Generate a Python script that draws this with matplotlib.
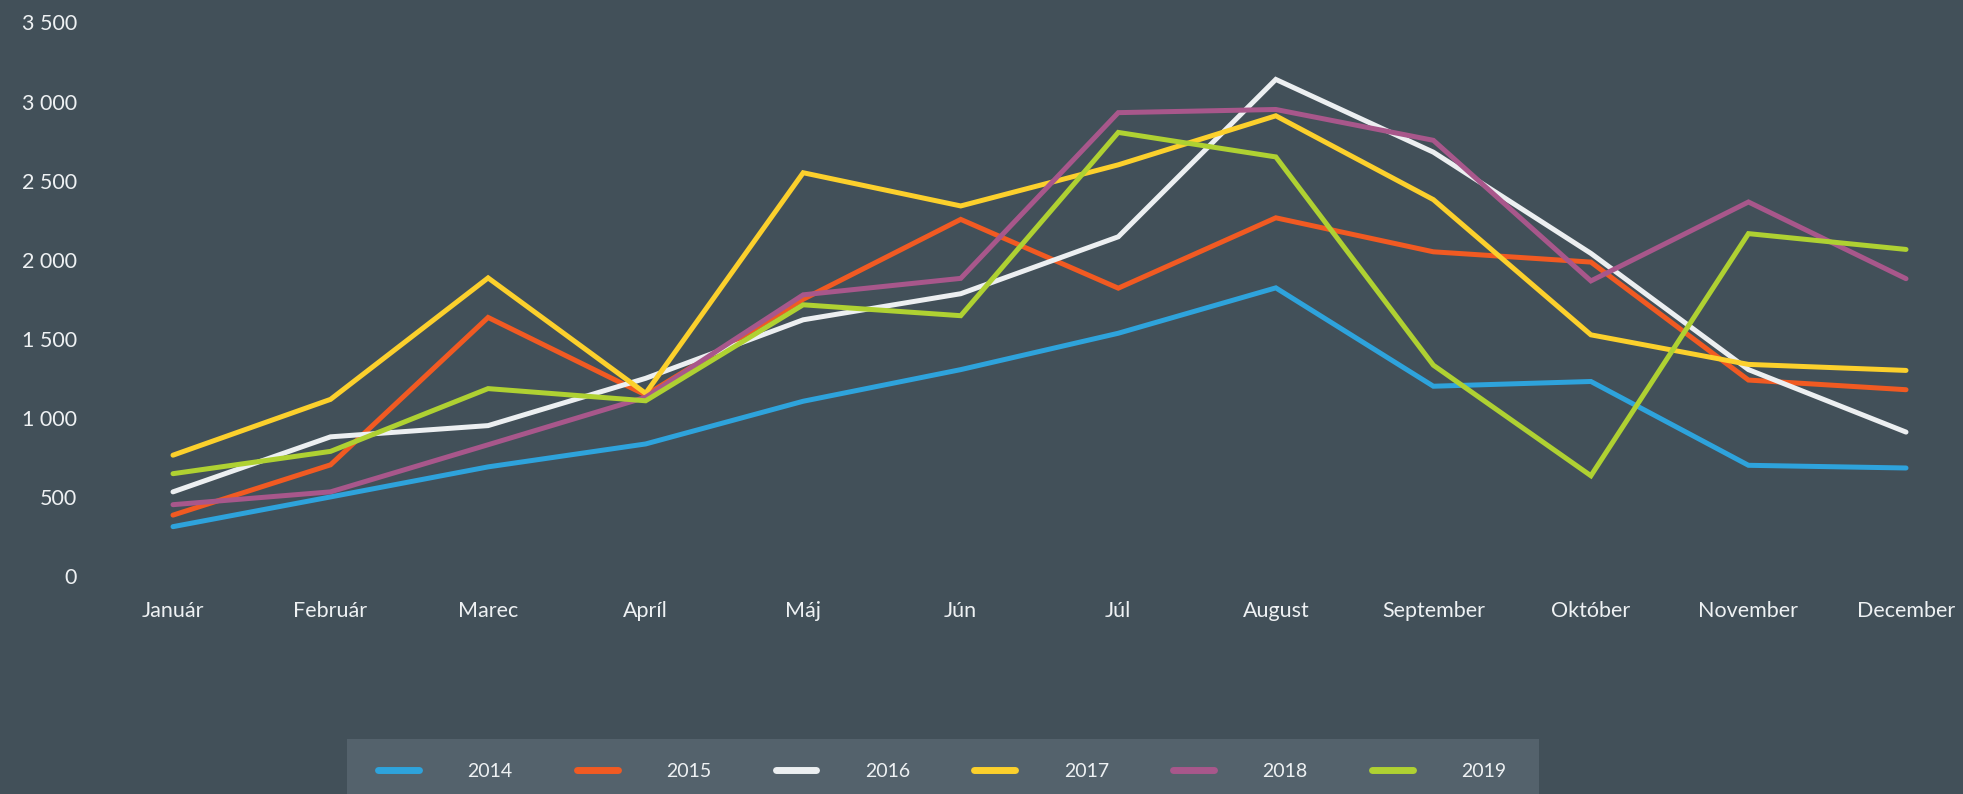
import matplotlib.pyplot as plt
from matplotlib.ticker import FuncFormatter
from matplotlib.patches import Rectangle

months = ["Január", "Február", "Marec", "Apríl", "Máj", "Jún", "Júl",
          "August", "September", "Október", "November", "December"]
years = ["2014", "2015", "2016", "2017", "2018", "2019"]

y2014 = [312, 500, 690, 835, 1105, 1305, 1535, 1822, 1200, 1230, 700, 683]
y2015 = [385, 703, 1635, 1145, 1750, 2255, 1820, 2265, 2050, 1985, 1239, 1178]
y2016 = [532, 880, 951, 1250, 1620, 1785, 2145, 3140, 2680, 2040, 1305, 910]
y2017 = [764, 1117, 1885, 1155, 2550, 2340, 2600, 2910, 2380, 1525, 1338, 1300]
y2018 = [451, 532, 830, 1130, 1778, 1882, 2930, 2950, 2755, 1866, 2365, 1880]
y2019 = [647, 788, 1185, 1108, 1715, 1646, 2805, 2650, 1333, 634, 2165, 2065]

colors = ["#2ea3dc", "#f15a22", "#eceff1", "#fcd02c", "#a8578b", "#afd132"]

bg = "#425059"
text_col = "#eef1f3"

plt.rcParams['font.family'] = ['Lato', 'DejaVu Sans']

fig = plt.figure(figsize=(19.63, 7.94), dpi=100, facecolor=bg)
ax = fig.add_axes([173 / 1963, (794 - 576) / 794, (1906 - 173) / 1963, (576 - 22.5) / 794])
ax.set_facecolor(bg)

series = [y2014, y2015, y2016, y2017, y2018, y2019]
for name, vals, c in zip(years, series, colors):
    ax.plot(range(len(months)), vals, color=c, lw=3.6, label=name,
            solid_joinstyle='miter', solid_capstyle='round', clip_on=False)

ax.set_xlim(0, len(months) - 1)
ax.set_ylim(0, 3500)
ax.set_yticks(range(0, 3501, 500))
ax.yaxis.set_major_formatter(FuncFormatter(lambda v, p: f"{int(v):,}".replace(",", " ")))
ax.set_xticks(range(len(months)))
ax.set_xticklabels(months)

for s in ax.spines.values():
    s.set_visible(False)
ax.tick_params(axis='both', length=0, colors=text_col, labelsize=15.5)
ax.tick_params(axis='x', pad=18)
ax.tick_params(axis='y', pad=69)

# legend box (runs off the bottom edge)
fig.patches.append(Rectangle((347 / 1963, 0), (1539 - 347) / 1963, (794 - 739) / 794,
                             transform=fig.transFigure, facecolor="#54626c",
                             edgecolor='none', zorder=0))
leg = fig.legend(loc='center', bbox_to_anchor=(0.480, 0.028), ncol=6, frameon=False,
                 fontsize=14, handlelength=2.1, handletextpad=2.5, columnspacing=3.3)
for t in leg.get_texts():
    t.set_color(text_col)
for h in leg.get_lines():
    h.set_linewidth(5)
    h.set_solid_capstyle('round')

fig.savefig("out.png", dpi=100, facecolor=bg)
